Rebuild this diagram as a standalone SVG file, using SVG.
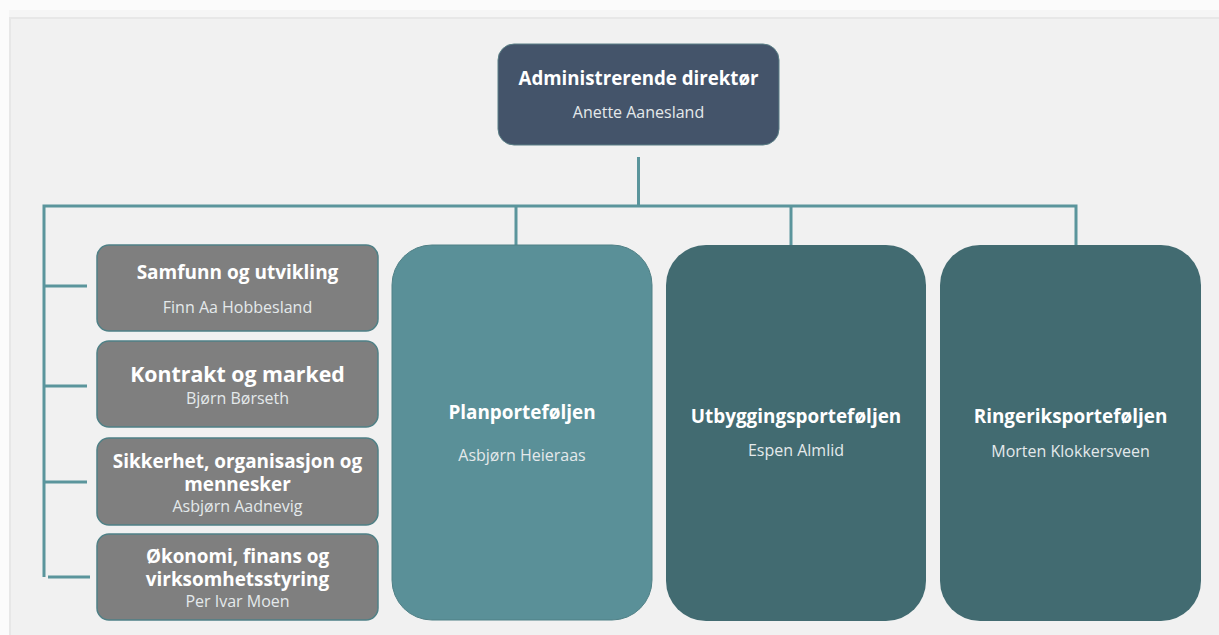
<svg xmlns="http://www.w3.org/2000/svg" width="1219" height="635" viewBox="0 0 1219 635">
  <style>
    .title { font-family: "Open Sans", "Noto Sans", sans-serif; font-weight: 700; fill: #ffffff; text-anchor: middle; }
    .sub { font-family: "Open Sans", "Noto Sans", sans-serif; font-weight: 400; fill: #e4e9eb; text-anchor: middle; font-size: 16px; }
    .link { fill: none; stroke: #5b959c; stroke-width: 3; }
    .unit { fill: #7f7f7f; stroke: #4f8086; stroke-width: 1.5; }
  </style>

  <!-- page background -->
  <rect x="0" y="0" width="1219" height="635" fill="#fbfbfb"/>
  <rect x="9" y="10" width="1210" height="625" fill="#f5f5f5"/>
  <rect x="9" y="17" width="1210" height="618" fill="#e7e7e7"/>
  <rect x="11" y="19" width="1208" height="616" fill="#f1f1f1"/>

  <!-- connectors -->
  <g id="connectors">
    <line class="link" x1="638.5" y1="157" x2="638.5" y2="206"/>
    <path class="link" d="M44 577 V206 H1076 V245"/>
    <line class="link" x1="516" y1="206" x2="516" y2="245"/>
    <line class="link" x1="791" y1="206" x2="791" y2="245"/>
    <line class="link" x1="44" y1="286" x2="87" y2="286"/>
    <line class="link" x1="44" y1="386" x2="87" y2="386"/>
    <line class="link" x1="44" y1="482" x2="87" y2="482"/>
    <line class="link" x1="48" y1="577" x2="90" y2="577"/>
  </g>

  <!-- chief executive -->
  <g id="ceo">
    <rect x="498" y="44" width="281" height="101" rx="16" fill="#44546a" stroke="#5a7f86" stroke-width="1"/>
    <text class="title" x="638.5" y="85" font-size="18.7">Administrerende direktør</text>
    <text class="sub" x="638.5" y="118">Anette Aanesland</text>
  </g>

  <!-- staff units -->
  <g id="samfunn">
    <rect class="unit" x="97" y="245" width="281" height="86" rx="12"/>
    <text class="title" x="237.5" y="279" font-size="19">Samfunn og utvikling</text>
    <text class="sub" x="237.5" y="313">Finn Aa Hobbesland</text>
  </g>
  <g id="kontrakt">
    <rect class="unit" x="97" y="341" width="281" height="86" rx="12"/>
    <text class="title" x="237.5" y="382" font-size="21.3">Kontrakt og marked</text>
    <text class="sub" x="237.5" y="404">Bjørn Børseth</text>
  </g>
  <g id="sikkerhet">
    <rect class="unit" x="97" y="438" width="281" height="87" rx="12"/>
    <text class="title" font-size="18.9"><tspan x="237.5" y="468">Sikkerhet, organisasjon og</tspan><tspan x="237.5" y="491">mennesker</tspan></text>
    <text class="sub" x="237.5" y="512">Asbjørn Aadnevig</text>
  </g>
  <g id="okonomi">
    <rect class="unit" x="97" y="534" width="281" height="86" rx="12"/>
    <text class="title" font-size="18.9"><tspan x="237.5" y="563">Økonomi, finans og</tspan><tspan x="237.5" y="586">virksomhetsstyring</tspan></text>
    <text class="sub" x="237.5" y="607">Per Ivar Moen</text>
  </g>

  <!-- portfolios -->
  <g id="plan">
    <rect x="392" y="245" width="260" height="375" rx="40" fill="#5a9098" stroke="#4f8086" stroke-width="1"/>
    <text class="title" x="522" y="419" font-size="18.9">Planporteføljen</text>
    <text class="sub" x="522" y="461">Asbjørn Heieraas</text>
  </g>
  <g id="utbygging">
    <rect x="666" y="245" width="260" height="376" rx="40" fill="#426b71"/>
    <text class="title" x="796" y="423" font-size="18.9">Utbyggingsporteføljen</text>
    <text class="sub" x="796" y="456">Espen Almlid</text>
  </g>
  <g id="ringerik">
    <rect x="940" y="245" width="261" height="376" rx="40" fill="#426b71"/>
    <text class="title" x="1070.5" y="423" font-size="18.9">Ringeriksporteføljen</text>
    <text class="sub" x="1070.5" y="457">Morten Klokkersveen</text>
  </g>
</svg>
